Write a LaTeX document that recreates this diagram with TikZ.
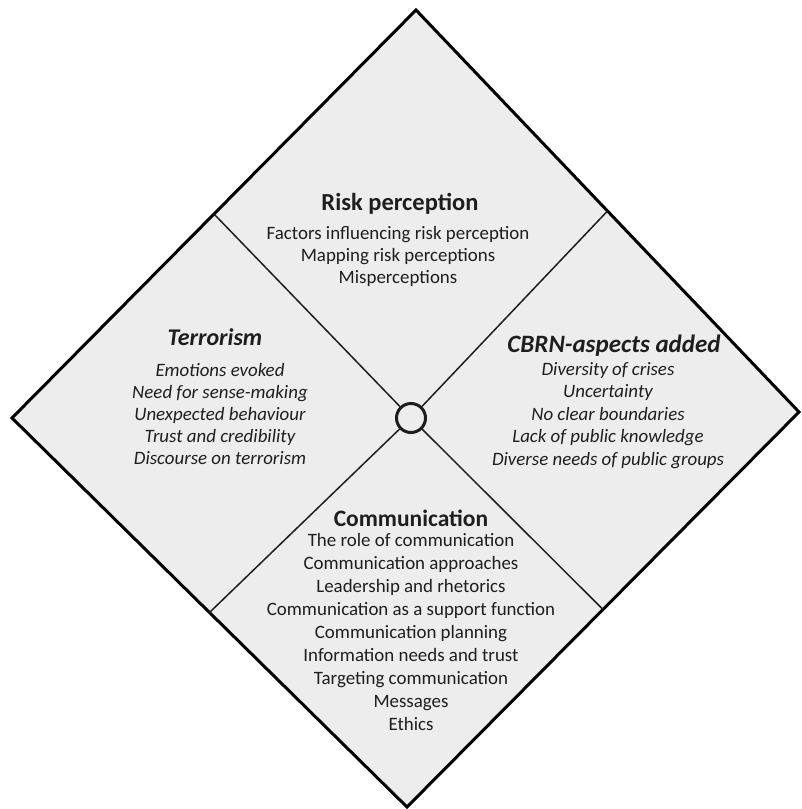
\documentclass[tikz,border=0pt]{standalone}
\usepackage{fontspec}
\setmainfont{Carlito}
\usetikzlibrary{positioning}
\definecolor{panelgray}{HTML}{EDEDED}
\definecolor{inkgray}{HTML}{1E1E1E}
\tikzset{
  head/.style={font=\fontsize{24.5}{28}\selectfont\bfseries, text=inkgray, anchor=base, inner sep=0pt},
  items/.style={font=\fontsize{18.9}{21.8}\selectfont, text=inkgray, align=center, anchor=base, inner sep=0pt},
  divider/.style={line width=1.5pt, draw=inkgray},
}

\begin{document}
\begin{tikzpicture}[x=1pt,y=-1pt]
    \useasboundingbox (0,0) rectangle (801,809);

    % Define the corners of the big square
    \coordinate (T) at (416,10);
    \coordinate (R) at (799,412);
    \coordinate (B) at (407,807);
    \coordinate (L) at (12,418);

    % Midpoints of the sides
    \coordinate (TL) at (214,214);
    \coordinate (TR) at (607.5,211);
    \coordinate (BR) at (603,609.5);
    \coordinate (BL) at (209.5,612.5);

    % Draw the square
    \draw[line width=3pt, fill=panelgray, line join=miter] (T) -- (R) -- (B) -- (L) -- cycle;

    % Hub in the middle and the dividers
    \node[circle, draw=inkgray, line width=3pt, fill=panelgray, minimum size=29pt, inner sep=0pt] (hub) at (411,418) {};
    \draw[divider] (TL) -- (hub);
    \draw[divider] (TR) -- (hub);
    \draw[divider] (BR) -- (hub);
    \draw[divider] (BL) -- (hub);

    % Label the four fields (lists sit on the baseline of their last line)
    \node[head] (risk) at (400,210) {Risk perception};
    \node[items] (risklist) at (398,283) {Factors influencing risk perception\\Mapping risk perceptions\\Misperceptions};

    \node[head, font=\fontsize{24}{28}\selectfont\bfseries\itshape] (terror) at (215,345) {Terrorism};
    \node[items, font=\fontsize{18.9}{21.8}\selectfont\itshape] (terrorlist) at (220,464) {Emotions evoked\\Need for sense-making\\Unexpected behaviour\\Trust and credibility\\Discourse on terrorism};

    \node[head, font=\fontsize{25}{28}\selectfont\bfseries\itshape] (cbrn) at (614,352) {CBRN-aspects added};
    \node[items, font=\fontsize{18.9}{22.5}\selectfont\itshape] (cbrnlist) at (608,465) {Diversity of crises\\Uncertainty\\No clear boundaries\\Lack of public knowledge\\Diverse needs of public groups};

    \node[head, font=\fontsize{23.5}{28}\selectfont\bfseries] (comm) at (411,526) {Communication};
    \node[items, font=\fontsize{18.9}{22.9}\selectfont] (commlist) at (411,730) {The role of communication\\Communication approaches\\Leadership and rhetorics\\Communication as a support function\\Communication planning\\Information needs and trust\\Targeting communication\\Messages\\Ethics};
\end{tikzpicture}
\end{document}
